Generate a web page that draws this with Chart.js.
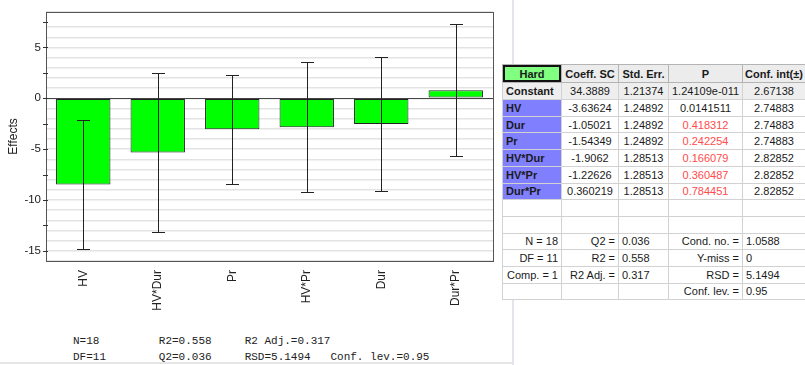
<!DOCTYPE html>
<html lang="en">
<head>
    <meta charset="UTF-8">
    <title>Effects - Hard</title>
    <script src="https://cdn.jsdelivr.net/npm/chart.js"></script>
    <style>
        body { margin: 0; width: 805px; height: 365px; overflow: hidden; background: #fff; position: relative; font-family: "Liberation Sans", Arial, sans-serif; }
        #wrap { position: absolute; left: 0; top: 0; width: 505px; height: 330px; }
        .vline { position: absolute; left: 512px; top: 0; width: 2px; height: 365px; background: #e2e5ee; }
        .hline { position: absolute; left: 0; top: 362px; width: 514px; height: 2px; background: #e6e6e6; }
        .stats { position: absolute; left: 73px; top: 334px; margin: 0; font: 11px/15.5px "Liberation Mono", "Courier New", monospace; color: #222; }
        table { position: absolute; left: 502px; top: 64px; width: 303px; border-collapse: collapse; table-layout: fixed; font-size: 11px; color: #1a1a1a; background: #fff; border-left: 1px solid #8c8c8c; }
        td, th { border: 1px solid #d2d2d2; padding: 0 3px; height: 15.7px; line-height: 14px; white-space: nowrap; overflow: hidden; text-align: center; font-weight: normal; }
        th { height: 17.4px; padding: 0; background: #ececec; font-weight: bold; border-color: #b4b4b4; }
        th.resp { background: #80ff80; box-shadow: inset 0 0 0 2px #111; }
        td.term { background: #8080ff; font-weight: bold; text-align: left; }
        td.const { background: #eeeeee; font-weight: bold; text-align: left; }
        tr.constrow td { background: #eeeeee; }
        .red { color: #ff4a4a; }
        .r { text-align: right; }
        .l { text-align: left; }
    </style>
</head>
<body>
    <div class="vline"></div>
    <div class="hline"></div>
    <div id="wrap"><canvas id="grafico"></canvas></div>
    <pre class="stats" id="stats"></pre>
    <table id="tabela">
        <colgroup>
            <col style="width:59px"><col style="width:57px"><col style="width:50px"><col style="width:74px"><col style="width:63px">
        </colgroup>
        <thead>
            <tr><th class="resp">Hard</th><th>Coeff. SC</th><th>Std. Err.</th><th>P</th><th>Conf. int(±)</th></tr>
        </thead>
        <tbody id="corpo"></tbody>
    </table>

    <script>
        // dados do gráfico
        const termos = ['HV', 'HV*Dur', 'Pr', 'HV*Pr', 'Dur', 'Dur*Pr'];
        const efeitos = [-8.48, -5.32, -3.05, -2.84, -2.53, 0.80];
        const erros = [6.38, 7.85, 5.39, 6.38, 6.55, 6.49];

        // dados da tabela
        const linhas = ['Constant', 'HV', 'Dur', 'Pr', 'HV*Dur', 'HV*Pr', 'Dur*Pr'];
        const coefs = ['34.3889', '-3.63624', '-1.05021', '-1.54349', '-1.9062', '-1.22626', '0.360219'];
        const stdErr = ['1.21374', '1.24892', '1.24892', '1.24892', '1.28513', '1.28513', '1.28513'];
        const pValores = ['1.24109e-011', '0.0141511', '0.418312', '0.242254', '0.166079', '0.360487', '0.784451'];
        const confInt = ['2.67138', '2.74883', '2.74883', '2.74883', '2.82852', '2.82852', '2.82852'];
        const resumo = [
            ['N = 18', 'Q2 =', '0.036', 'Cond. no. =', '1.0588'],
            ['DF = 11', 'R2 =', '0.558', 'Y-miss =', '0'],
            ['Comp. = 1', 'R2 Adj. =', '0.317', 'RSD =', '5.1494'],
            ['', '', '', 'Conf. lev. =', '0.95']
        ];

        // monta a tabela
        let html = '';
        linhas.forEach((nome, i) => {
            const cls = i === 0 ? 'const' : 'term';
            const p = parseFloat(pValores[i]);
            html += `<tr${i === 0 ? ' class="constrow"' : ''}><td class="${cls}">${nome}</td><td>${coefs[i]}</td><td>${stdErr[i]}</td>` +
                `<td class="${p > 0.05 ? 'red' : ''}">${pValores[i]}</td><td>${confInt[i]}</td></tr>`;
        });
        html += '<tr><td></td><td></td><td></td><td></td><td></td></tr>';
        html += '<tr><td></td><td></td><td></td><td></td><td></td></tr>';
        resumo.forEach(r => {
            html += `<tr><td class="r">${r[0]}</td><td class="r">${r[1]}</td><td class="l">${r[2]}</td><td class="r">${r[3]}</td><td class="l">${r[4]}</td></tr>`;
        });
        document.getElementById('corpo').innerHTML = html;

        document.getElementById('stats').textContent =
            'N=18         R2=0.558     R2 Adj.=0.317\n' +
            'DF=11        Q2=0.036     RSD=5.1494   Conf. lev.=0.95';

        // barras de erro, linha zero, moldura e marcas do eixo
        const extras = {
            id: 'extras',
            beforeDatasetsDraw(chart) {
                const { ctx, chartArea: a, scales: { y } } = chart;
                ctx.save();
                ctx.strokeStyle = '#444';
                ctx.lineWidth = 1;
                const y0 = Math.round(y.getPixelForValue(0)) + 0.5;
                ctx.beginPath();
                ctx.moveTo(a.left, y0);
                ctx.lineTo(a.right, y0);
                ctx.stroke();
                ctx.restore();
            },
            afterDatasetsDraw(chart) {
                const { ctx, chartArea: a, scales: { x, y } } = chart;
                ctx.save();
                ctx.strokeStyle = '#222';
                ctx.lineWidth = 1;
                termos.forEach((t, i) => {
                    const px = Math.round(x.getPixelForValue(i)) + 0.5;
                    const top = Math.round(y.getPixelForValue(efeitos[i] + erros[i])) + 0.5;
                    const bot = Math.round(y.getPixelForValue(efeitos[i] - erros[i])) + 0.5;
                    ctx.beginPath();
                    ctx.moveTo(px, top); ctx.lineTo(px, bot);
                    ctx.moveTo(px - 6.5, top); ctx.lineTo(px + 6.5, top);
                    ctx.moveTo(px - 6.5, bot); ctx.lineTo(px + 6.5, bot);
                    ctx.stroke();
                });
                // moldura
                ctx.strokeStyle = '#555';
                ctx.strokeRect(Math.round(a.left) + 0.5, Math.round(a.top) + 0.5, Math.round(a.right - a.left), Math.round(a.bottom - a.top));
                // marcas do eixo y a cada 2.5
                ctx.strokeStyle = '#333';
                for (let v = -15; v <= 7.5; v += 2.5) {
                    const py = Math.round(y.getPixelForValue(v)) + 0.5;
                    ctx.beginPath();
                    ctx.moveTo(a.left - 3, py); ctx.lineTo(a.left + 2, py);
                    ctx.stroke();
                }
                ctx.restore();
            }
        };

        const ctx = document.getElementById('grafico').getContext('2d');
        new Chart(ctx, {
            type: 'bar',
            data: {
                labels: termos,
                datasets: [{
                    data: efeitos,
                    backgroundColor: '#00ff00',
                    borderColor: '#222',
                    borderWidth: 1,
                    borderSkipped: false,
                    barPercentage: 0.73,
                    categoryPercentage: 1
                }]
            },
            options: {
                responsive: true,
                maintainAspectRatio: false,
                animation: false,
                layout: { padding: { top: 9, right: 12, left: 0, bottom: 9 } },
                plugins: { legend: { display: false }, tooltip: { enabled: false } },
                scales: {
                    x: {
                        grid: { display: false, drawTicks: false },
                        border: { display: false },
                        ticks: {
                            minRotation: 90, maxRotation: 90, padding: 9,
                            color: '#222', font: { family: 'Liberation Sans', size: 12 }
                        },
                        afterFit: (s) => { s.height = 60; }
                    },
                    y: {
                        min: -16, max: 8.5,
                        grid: { color: '#e3e3e3', lineWidth: 1.5, drawTicks: false },
                        border: { display: false },
                        ticks: {
                            stepSize: 1, padding: 5, autoSkip: false,
                            color: '#222', font: { family: 'Liberation Sans', size: 11.5 },
                            callback: (v) => (v % 5 === 0 ? v : '')
                        },
                        title: {
                            display: true, text: 'Effects', color: '#222',
                            font: { family: 'Liberation Sans', size: 12 },
                            padding: { top: 6, bottom: 0 }
                        },
                        afterFit: (s) => { s.width = 46; }
                    }
                }
            },
            plugins: [extras]
        });
    </script>
</body>
</html>
